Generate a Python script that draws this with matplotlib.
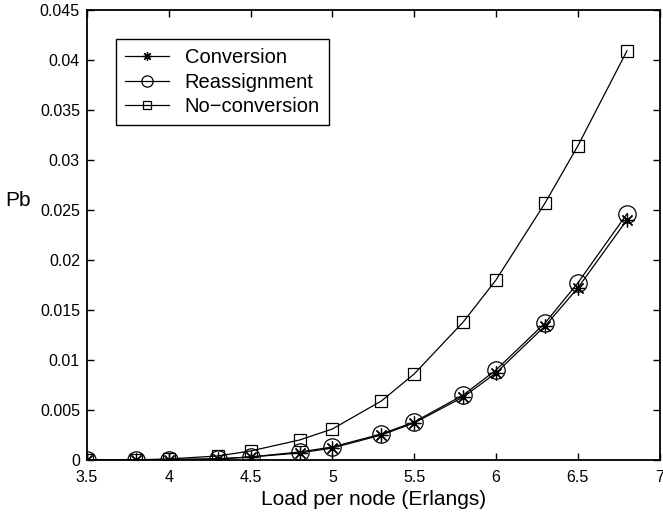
import matplotlib
matplotlib.use('Agg')
import matplotlib.pyplot as plt
from matplotlib.ticker import FuncFormatter, MultipleLocator

plt.rcParams['font.family'] = ['Liberation Sans', 'DejaVu Sans']

load = [3.5, 3.8, 4.0, 4.3, 4.5, 4.8, 5.0, 5.3, 5.5, 5.8, 6.0, 6.3, 6.5, 6.8]
conversion = [0.0, 0.0, 0.00003, 0.0001, 0.0003, 0.0007, 0.0012, 0.0025, 0.0037,
              0.0063, 0.0087, 0.0134, 0.0172, 0.0240]
reassignment = [0.0, 0.0, 0.00004, 0.00012, 0.0003, 0.0008, 0.0013, 0.0026, 0.0038,
                0.0065, 0.0090, 0.0137, 0.0177, 0.0246]
no_conversion = [0.0, 0.00002, 0.0001, 0.0004, 0.0009, 0.0020, 0.0031, 0.0059, 0.0086,
                 0.0138, 0.0180, 0.0257, 0.0314, 0.0409]
series_names = ['Conversion', 'Reassignment', 'No\u2212conversion']

fig = plt.figure(figsize=(6.63, 5.18), dpi=100)
ax = fig.add_axes([0.131, 0.112, 0.864, 0.869])

ax.plot(load, conversion, 'k-', lw=0.9, marker=(8, 2, 0), ms=10, mew=0.9,
        label=series_names[0])
ax.plot(load, reassignment, 'k-', lw=0.9, marker='o', ms=12.5, mfc='none', mew=0.9,
        label=series_names[1])
ax.plot(load, no_conversion, 'k-', lw=0.9, marker='s', ms=9, mfc='none', mew=0.9,
        label=series_names[2])

ax.set_xlim(3.5, 7)
ax.set_ylim(0, 0.045)
ax.xaxis.set_major_locator(MultipleLocator(0.5))
ax.yaxis.set_major_locator(MultipleLocator(0.005))
fmt = FuncFormatter(lambda v, p: '%g' % round(v, 4))
ax.xaxis.set_major_formatter(fmt)
ax.yaxis.set_major_formatter(fmt)
ax.tick_params(direction='in', top=True, right=True, length=5, width=1,
               labelsize=11.5)
ax.tick_params(axis='x', pad=7)
ax.tick_params(axis='y', pad=5)
for s in ax.spines.values():
    s.set_linewidth(1.3)

ax.set_xlabel('Load per node (Erlangs)', fontsize=15, labelpad=4)
ax.set_ylabel('Pb', fontsize=15, rotation=0)
ax.yaxis.set_label_coords(-0.12, 0.556)

leg = ax.legend(loc='upper left', bbox_to_anchor=(0.051, 0.935), fontsize=14.5,
                markerscale=0.65, fancybox=False, edgecolor='black',
                handlelength=2.2, handletextpad=0.75, borderpad=0.45,
                labelspacing=0.27, borderaxespad=0)
leg.get_frame().set_linewidth(1.0)
leg.get_frame().set_alpha(1)

fig.savefig('out.png', dpi=100)
